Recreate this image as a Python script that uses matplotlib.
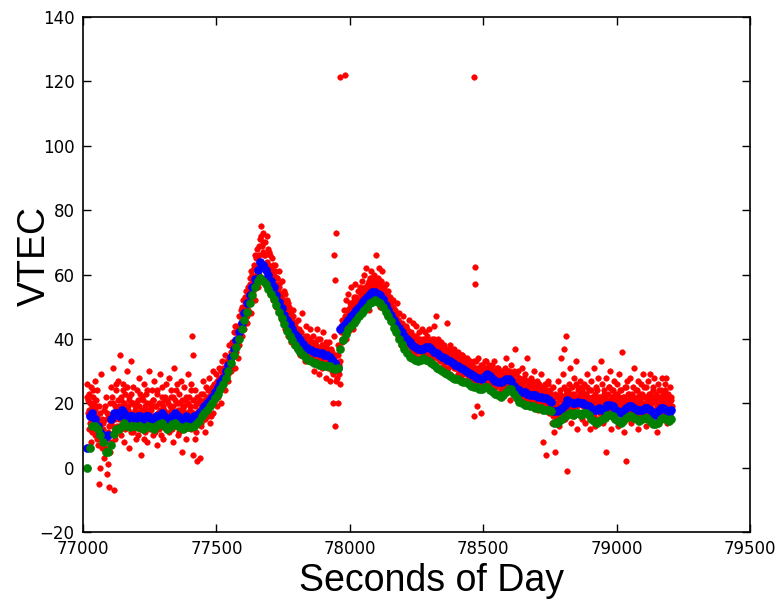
import numpy as np
import matplotlib
matplotlib.use("Agg")
import matplotlib.pyplot as plt

# ---------------- data ----------------
# raw VTEC samples (red), two interleaved sample streams
red_start, red_step = 77015, 3
red_vtec = [
    26, 21, 23, 18, 14, 25, 11, 20, 22, 16, 27, 19, 9, 24, 13, -5, 17, 29, 12, 6,
    14, 3, 19, 8, 22, -2, 11, -6, 16, 5, 25, 13, 31, 20, -7, 9, 24, 18, 12, 27,
    15, 35, 21, 10, 19, 26, 8, 17, 23, 13, 30, 18, 6, 22, 14, 33, 20, 11, 25, 16,
    19, 9, 24, 14, 21, 28, 12, 17, 4, 22, 15, 26, 11, 19, 23, 8, 18, 30, 13, 20,
    16, 24, 10, 21, 27, 14, 19, 7, 23, 17, 12, 29, 20, 15, 25, 9, 18, 22, 13, 26,
    21, 14, 28, 11, 19, 24, 16, 8, 22, 31, 17, 13, 26, 20, 10, 23, 18, 27, 15, 5,
    18, 25, 12, 21, 9, 16, 29, 22, 14, 19, 26, 41, 35, 4, 17, 24, 11, 20, 2, 15,
    20, 3, 23, 13, 18, 27, 15, 21, 11, 25, 19, 16, 28, 22, 14, 24, 20, 30, 17, 26,
    24, 29, 19, 27, 22, 31, 25, 28, 20, 33, 26, 30, 24, 35, 28, 32, 27, 38, 31, 34,
    33, 36, 31, 39, 35, 42, 37, 40, 44, 38, 41, 47, 43, 45, 50, 44, 48, 53, 47, 50,
    52, 49, 55, 51, 57, 53, 60, 55, 58, 62, 57, 65, 60, 68, 62, 66, 71, 64, 75, 69,
    73, 66, 62, 70, 58, 64, 68, 60, 55, 66, 61, 57, 63, 59, 52, 61, 56, 54, 59, 50,
    56, 49, 53, 47, 58, 51, 45, 54, 49, 43, 52, 47, 50, 42, 48, 45, 40, 47, 43, 38,
    44, 41, 37, 46, 39, 43, 35, 42, 38, 48, 36, 40, 33, 44, 38, 41, 35, 39, 43, 34,
    38, 33, 41, 36, 30, 39, 35, 43, 32, 37, 29, 40, 34, 38, 31, 42, 36, 33, 39, 28,
    36, 31, 39, 27, 34, 37, 30, 20, 41, 33, 13, 35, 28, 20, 38, 32, 26, 44, 40, 46,
    42, 49, 45, 52, 40, 47, 54, 44, 50, 46, 56, 48, 43, 53, 51, 57, 46, 52, 49, 55,
    51, 56, 48, 58, 53, 50, 60, 55, 52, 62, 54, 57, 49, 59, 56, 61, 53, 58, 55, 60,
    57, 66, 53, 59, 55, 62, 50, 58, 54, 61, 52, 56, 49, 57, 53, 47, 55, 51, 46, 53,
    50, 45, 52, 47, 43, 49, 44, 51, 41, 46, 48, 42, 38, 45, 40, 47, 43, 39, 44, 41,
    43, 38, 46, 40, 36, 42, 39, 45, 35, 41, 38, 44, 37, 40, 34, 42, 39, 36, 43, 38,
    40, 36, 42, 38, 34, 41, 37, 43, 35, 39, 33, 40, 36, 44, 38, 32, 47, 37, 35, 40,
    37, 33, 39, 35, 31, 38, 34, 36, 30, 37, 45, 33, 35, 29, 38, 32, 36, 34, 31, 37,
    35, 31, 33, 29, 36, 32, 34, 28, 31, 35, 30, 33, 27, 32, 29, 34, 31, 28, 33, 30,
    32, 28, 30, 16, 33, 27, 31, 19, 29, 34, 26, 30, 17, 28, 32, 25, 29, 31, 27, 33,
    30, 26, 32, 28, 24, 31, 27, 29, 33, 25, 28, 30, 23, 27, 31, 26, 29, 24, 28, 22,
    29, 25, 31, 27, 34, 24, 28, 30, 21, 26, 32, 28, 23, 29, 25, 37, 27, 22, 30, 26,
    28, 23, 26, 31, 21, 27, 24, 29, 19, 25, 34, 22, 27, 24, 20, 28, 23, 26, 30, 21,
    25, 20, 27, 23, 18, 26, 22, 29, 19, 24, 8, 21, 26, 4, 23, 20, 27, 17, 24, 22,
    20, 14, 25, 18, 11, 5, 22, 16, 27, 19, 13, 23, 34, 17, 21, 29, 37, 15, 24, 41,
    -1, 18, 26, 21, 31, 14, 23, 19, 28, 16, 22, 33, 12, 25, 20, 17, 27, 22, 15, 24,
    19, 26, 14, 23, 21, 29, 17, 24, 12, 20, 27, 16, 22, 31, 18, 13, 25, 21, 28, 15,
    22, 17, 33, 20, 26, 14, 23, 19, 28, 5, 21, 16, 25, 18, 30, 12, 24, 20, 27, 15,
    23, 18, 26, 13, 21, 29, 17, 24, 19, 36, 22, 11, 25, 2, 20, 27, 16, 23, 19, 28,
    14, 22, 25, 18, 31, 20, 16, 24, 12, 27, 21, 19, 26, 15, 23, 29, 17, 22, 13, 25,
    20, 27, 16, 23, 29, 18, 14, 25, 21, 28, 17, 22, 11, 26, 19, 24, 15, 21, 28, 18,
    23, 17, 26, 20, 28, 14, 22, 19, 25, 16, 21,
]
red2_start, red2_step = 77016.5, 3
red2_vtec = [
    22, 17, 12, 20, 8, 15, 19, 24, 13, 18, 10, 21, 16, 7, 14, 19, 0, 11, 15, 9,
    12, 18, 6, 15, 10, 17, 1, 13, 20, 8, 14, 22, 17, 11, 19, 15, 26, 13, 21, 17,
    19, 13, 22, 16, 24, 15, 20, 12, 18, 25, 14, 19, 21, 17, 11, 23, 16, 20, 13, 18,
    14, 20, 17, 10, 19, 15, 23, 18, 13, 16, 21, 9, 18, 14, 20, 24, 15, 17, 12, 19,
    18, 13, 21, 16, 11, 19, 15, 24, 17, 20, 14, 18, 10, 22, 16, 19, 13, 21, 17, 15,
    17, 20, 13, 16, 22, 18, 12, 19, 15, 21, 16, 24, 14, 18, 20, 11, 17, 15, 21, 19,
    14, 19, 16, 22, 17, 13, 20, 15, 18, 24, 12, 17, 21, 15, 9, 19, 16, 22, 14, 18,
    16, 21, 14, 19, 17, 23, 18, 15, 20, 22, 17, 24, 19, 21, 16, 23, 25, 20, 22, 24,
    21, 26, 23, 25, 28, 24, 27, 30, 26, 29, 31, 27, 30, 28, 33, 31, 29, 34, 32, 36,
    30, 39, 35, 42, 31, 44, 36, 40, 34, 47, 38, 43, 49, 41, 46, 52, 43, 50, 55, 45,
    47, 56, 52, 59, 48, 61, 54, 57, 63, 52, 66, 58, 61, 56, 69, 60, 64, 72, 59, 67,
    70, 58, 66, 61, 72, 56, 63, 67, 54, 62, 58, 65, 52, 60, 57, 63, 50, 59, 55, 61,
    57, 48, 54, 46, 52, 49, 55, 43, 50, 47, 41, 51, 45, 48, 39, 46, 43, 49, 40, 45,
    40, 43, 38, 41, 39, 36, 42, 38, 40, 35, 39, 37, 41, 36, 38, 34, 37, 40, 35, 38,
    36, 39, 34, 37, 35, 38, 33, 36, 40, 34, 37, 32, 35, 38, 36, 33, 37, 34, 38, 35,
    34, 37, 32, 35, 31, 36, 33, 29, 34, 30, 32, 27, 31, 35, 29, 33, 37, 42, 39, 44,
    45, 43, 47, 44, 49, 46, 42, 48, 51, 45, 47, 50, 48, 52, 46, 50, 53, 49, 51, 48,
    52, 49, 54, 51, 55, 53, 50, 56, 54, 52, 57, 55, 58, 53, 56, 59, 54, 57, 55, 58,
    56, 54, 58, 55, 53, 57, 55, 52, 56, 54, 51, 55, 52, 50, 54, 51, 49, 52, 48, 51,
    49, 47, 50, 46, 48, 45, 47, 43, 46, 44, 42, 45, 43, 41, 44, 42, 40, 43, 41, 39,
    41, 39, 42, 38, 40, 37, 41, 39, 36, 40, 38, 41, 37, 39, 36, 38, 40, 37, 39, 36,
    38, 36, 39, 37, 40, 35, 38, 36, 39, 37, 34, 38, 36, 40, 35, 37, 39, 34, 36, 38,
    36, 34, 37, 33, 35, 38, 32, 35, 33, 36, 34, 31, 35, 33, 37, 32, 34, 36, 33, 31,
    33, 35, 31, 34, 32, 30, 33, 31, 35, 29, 32, 30, 34, 31, 29, 33, 30, 32, 28, 31,
    30, 32, 28, 31, 29, 33, 27, 30, 28, 31, 29, 27, 32, 30, 28, 31, 29, 33, 30, 28,
    31, 29, 27, 30, 28, 32, 26, 29, 27, 30, 25, 28, 31, 27, 29, 26, 28, 30, 25, 27,
    28, 26, 29, 27, 25, 30, 28, 26, 29, 27, 24, 28, 26, 30, 25, 27, 29, 24, 26, 28,
    25, 27, 23, 26, 24, 28, 22, 25, 23, 27, 24, 21, 26, 23, 25, 22, 27, 24, 21, 25,
    24, 22, 26, 21, 23, 25, 20, 24, 22, 19, 23, 25, 21, 24, 20, 22, 26, 19, 23, 21,
    18, 21, 16, 19, 23, 17, 20, 15, 22, 18, 21, 24, 19, 17, 22, 20, 25, 18, 23, 21,
    22, 24, 20, 23, 19, 25, 21, 18, 23, 20, 26, 22, 19, 24, 21, 17, 23, 20, 25, 22,
    21, 19, 23, 20, 25, 18, 22, 17, 21, 24, 19, 22, 20, 16, 23, 19, 21, 24, 18, 20,
    19, 22, 17, 21, 20, 24, 18, 22, 19, 16, 23, 20, 25, 21, 18, 22, 19, 24, 20, 17,
    21, 19, 23, 17, 22, 20, 24, 18, 21, 19, 16, 22, 20, 25, 18, 21, 23, 19, 17, 22,
    20, 23, 18, 21, 19, 24, 17, 22, 20, 18, 23, 21, 16, 22, 19, 25, 20, 18, 22, 19,
    21, 18, 23, 19, 16, 22, 20, 24, 18, 21, 17, 23, 19, 20, 15, 22, 18, 24, 20, 17,
    22, 19, 24, 18, 21, 17, 23, 20, 18, 22, 19,
]

# isolated red outliers
outlier_sec = [77963, 77981, 78466, 77948, 77941, 77943, 78468, 78468]
outlier_vtec = [121.4, 122.1, 121.5, 73, 66, 58.4, 62.4, 57]

# smoothed series (blue, green)
smooth_start, smooth_step = 77015, 10
blue_vtec = [
    6, 16, 17, 15, 13, 11, 10, 9.5, 10, 15,
    17, 17, 16, 18, 17, 15, 16, 16, 15, 16,
    16, 15, 16, 16, 15, 15, 16, 16, 17, 16,
    15, 15, 16, 17, 16, 15, 15, 16, 15, 15,
    16, 16, 17, 18, 19, 20, 21, 22, 23.5, 25,
    26.5, 28, 30, 32, 34.5, 37, 39.5, 42, 45, 48,
    51, 53.5, 56, 58.5, 61.5, 64, 63, 61.5, 60, 58,
    56, 53.5, 51.5, 49.5, 47.5, 46, 44.5, 43, 41.5, 40.5,
    39.5, 38.5, 37.5, 37, 36.5, 36, 36, 35.5, 35.5, 35,
    35, 34.5, 33.5, 32.5, 31, 43, 44, 45, 46, 47,
    48, 49, 50, 51, 52, 53, 54, 54.5, 54.5, 54,
    53.5, 52.5, 50.5, 49, 47.5, 46, 44.5, 43.5, 42, 41,
    40, 39, 38, 37.5, 37, 37, 37, 37.5, 37.5, 37,
    36, 35.5, 35, 34.5, 34, 33.5, 33, 32.5, 32, 31.5,
    31, 30.5, 30, 29.5, 29, 28.5, 28, 28, 27.5, 28.5,
    29, 28.5, 27.5, 27, 26.5, 26.5, 27, 27.5, 27.5, 27,
    25.5, 24.5, 24, 23.5, 23.5, 23, 22.5, 22.5, 22.5, 22,
    22, 21.5, 21.5, 21, 20.5, 17.5, 17.5, 18, 18.5, 19.5,
    21, 20.5, 20, 20, 20.5, 20, 20, 19.5, 19, 18.5,
    18, 18, 18.5, 18, 18.5, 19.5, 19.5, 19, 18, 17.5,
    17, 17.5, 18.5, 19, 19, 18.5, 18, 18, 18, 18.5,
    18.5, 18, 17, 16.5, 17.5, 18.5, 18.5, 18, 17, 18,
]
green_vtec = [
    0, 6, 13, 13, 12, 10, 8, 5, 5, 7,
    10.5, 12, 12, 13, 14, 13, 12.5, 13, 13, 12.5,
    13, 12, 12.5, 13, 12.5, 12, 13, 13.5, 14, 13,
    12, 12.5, 13.5, 14, 13, 12.5, 12, 13, 12.5, 12.5,
    13, 13.5, 14.5, 16, 17, 18, 19, 20, 21.5, 23,
    24.5, 26, 28, 30, 32.5, 35, 37.5, 40, 43, 46,
    48.5, 51, 53.5, 56, 58, 59, 58, 57, 55.5, 54,
    52.5, 50.5, 48.5, 46.5, 44.5, 42.5, 41, 39.5, 38, 37,
    36, 35, 34, 33.5, 33, 32.5, 32.5, 32, 32, 31.5,
    31.5, 31.5, 31, 30.5, 31, 37, 39.5, 41.5, 43, 44,
    45, 46, 47, 48, 49, 50, 51, 51.5, 52, 51.5,
    51, 50, 48.5, 47, 45.5, 43.5, 42, 40, 38.5, 37,
    35.5, 34.5, 34, 33.5, 33, 33.5, 34, 33.5, 33, 32.5,
    32, 31, 30.5, 30, 29.5, 29, 28.5, 28, 27.5, 27.5,
    27, 26.5, 26.5, 26, 25.5, 25, 25, 24.5, 24.5, 25,
    25, 24, 23.5, 23, 22.5, 22, 22.5, 23.5, 24.5, 24.5,
    23, 21.5, 20.5, 20, 19.5, 19.5, 19, 19, 18.5, 18.5,
    18.5, 18, 18, 18, 17.5, 14, 14, 14.5, 15, 16,
    16.5, 17, 16.5, 17, 17, 16.5, 17, 17, 16.5, 15,
    14.5, 14, 14.5, 15, 15.5, 16.5, 16.5, 16, 15, 14.5,
    14, 14.5, 15.5, 16, 16, 15.5, 15, 14.5, 15, 15.5,
    15.5, 14.5, 13.5, 13.5, 14, 15, 15.5, 15, 14.5, 15,
]

x_ticks = [77000, 77500, 78000, 78500, 79000, 79500]
y_ticks = [-20, 0, 20, 40, 60, 80, 100, 120, 140]

# ---------------- plotting ----------------
red_sec = red_start + red_step * np.arange(len(red_vtec))
red2_sec = red2_start + red2_step * np.arange(len(red2_vtec))
blue_sec = smooth_start + smooth_step * np.arange(len(blue_vtec))
green_sec = smooth_start + smooth_step * np.arange(len(green_vtec))

all_red_sec = np.concatenate([red_sec, red2_sec, outlier_sec])
all_red_vtec = np.concatenate([red_vtec, red2_vtec, outlier_vtec])

plt.rcParams['font.family'] = ['DejaVu Sans']
fig = plt.figure(figsize=(7.78, 6.01), dpi=100)
ax = fig.add_axes([83 / 778, 69 / 601, 667 / 778, 515 / 601])

ax.plot(all_red_sec, all_red_vtec, 'o', color='#ff0000', ms=4.0, mew=0.4,
        mec='#ff0000', linestyle='none')
ax.plot(blue_sec, blue_vtec, 'o', color='#0000ff', ms=5.8, mew=0.4,
        mec='#0000ff', linestyle='none')
ax.plot(green_sec, green_vtec, 'o', color='#008000', ms=5.8, mew=0.4,
        mec='#008000', linestyle='none')

ax.set_xlim(77000, 79500)
ax.set_ylim(-20, 140)
ax.set_xticks(x_ticks)
ax.set_yticks(y_ticks)
ax.tick_params(direction='in', top=True, right=True, length=6, width=1,
               labelsize=12, pad=6)
for s in ax.spines.values():
    s.set_linewidth(1.2)

ax.set_xlabel('Seconds of Day', fontsize=27, family='Liberation Sans')
ax.set_ylabel('VTEC', fontsize=27, family='Liberation Sans')
ax.xaxis.set_label_coords(0.522, -0.061)
ax.yaxis.set_label_coords(-0.045, 0.536)

fig.savefig('out.png', dpi=100, facecolor='white')
